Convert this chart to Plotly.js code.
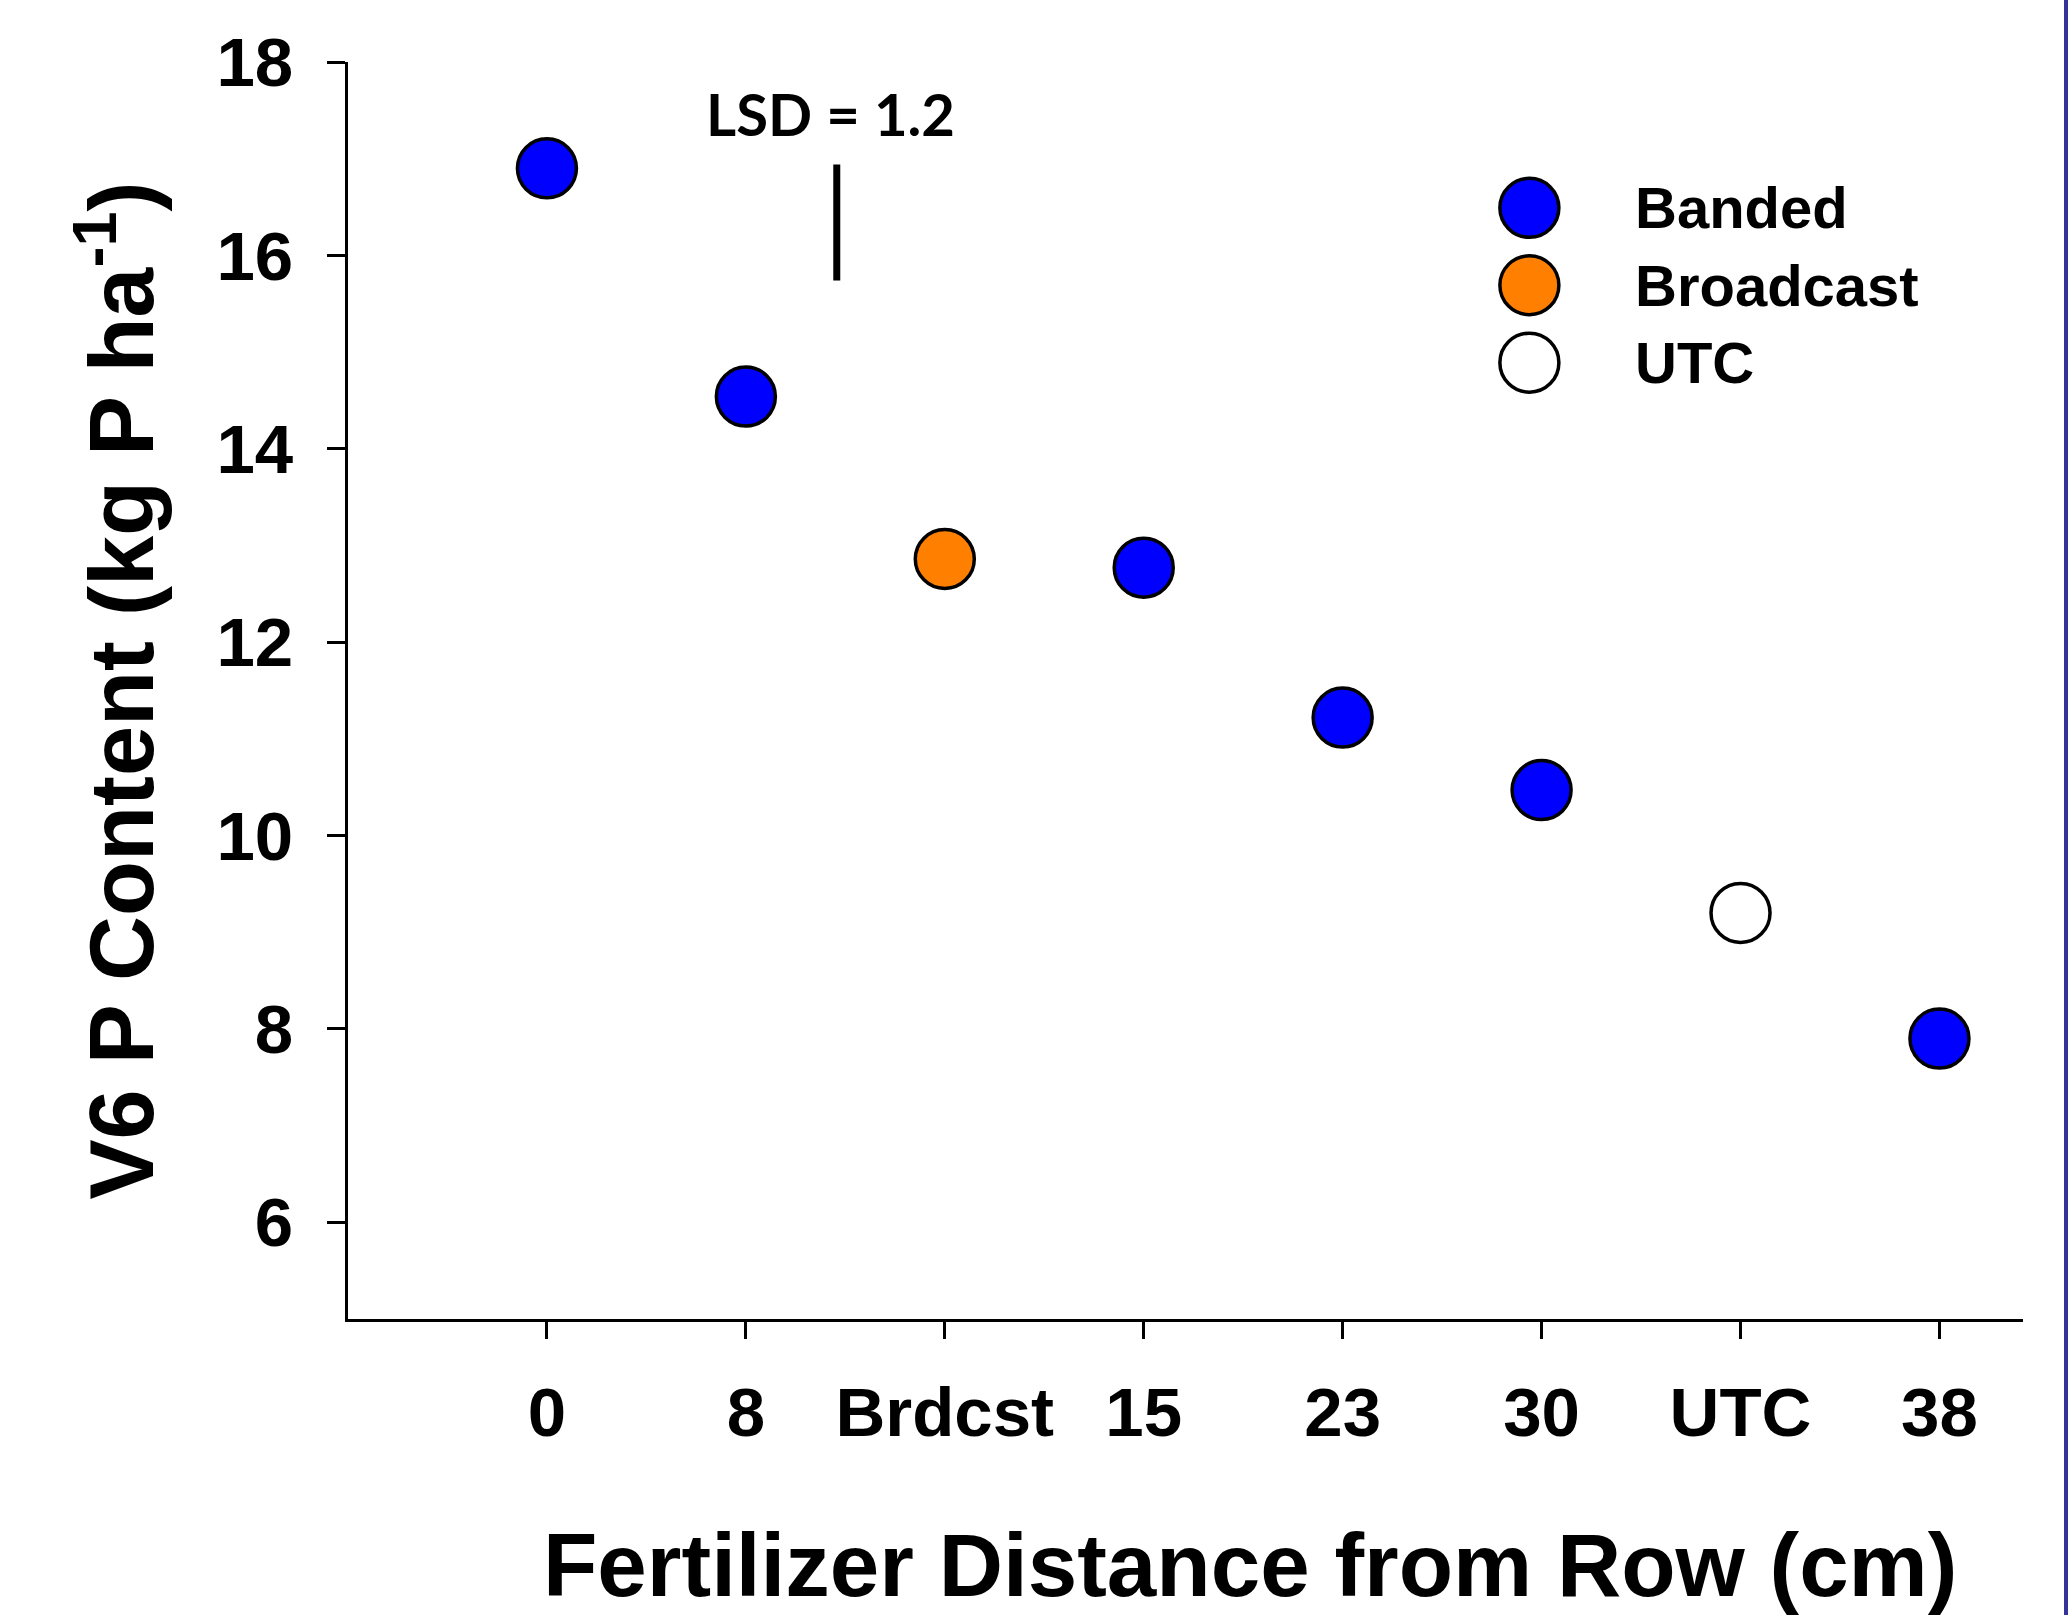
<!DOCTYPE html>
<html><head><meta charset="utf-8">
<script src="https://cdn.plot.ly/plotly-3.0.1.min.js"></script>
<style>
html,body{margin:0;padding:0;background:#fff;overflow:hidden;}
#wrap{width:2064px;height:1615px;border-right:4px solid #33339a;}
#chart{width:2064px;height:1615px;}
</style></head><body>
<div id="wrap"><div id="chart"></div></div>
<script>
// ---- data ----
const categories = ['0', '8', 'Brdcst', '15', '23', '30', 'UTC', '38'];
const pContent = [16.90, 14.54, 12.86, 12.77, 11.22, 10.47, 9.20, 7.90];
const treatment = ['Banded', 'Banded', 'Broadcast', 'Banded', 'Banded', 'Banded', 'UTC', 'Banded'];
const groups = ['Banded', 'Broadcast', 'UTC'];
const yTicks = [6, 8, 10, 12, 14, 16, 18];
const lsdValue = 1.2;
const lsdLabel = 'LSD = 1.2';

// ---- styling / placement ----
const groupColors = ['#0000ff', '#ff8000', '#ffffff'];
const FONT = 'Liberation Sans, Arial, Helvetica, sans-serif';
const lsdX = 1.457, lsdMid = 16.34, lsdTextY = 17.47, lsdTextX = 1.426;
const legMarkerX = 0.7053, legTextX = 0.7673, legTop = 0.884, legStep = 0.0616;
const markerSize = 59;

const xIdx = categories.map((_, i) => i);
const traces = groups.map((g, gi) => {
  const xs = [], ys = [];
  treatment.forEach((t, i) => { if (t === g) { xs.push(xIdx[i]); ys.push(pContent[i]); } });
  return {
    type: 'scatter', mode: 'markers', name: g, x: xs, y: ys, showlegend: false,
    cliponaxis: false,
    marker: {size: markerSize, color: groupColors[gi], line: {color: '#000', width: 3.5}}
  };
});

// LSD bar
traces.push({
  type: 'scatter', mode: 'lines', name: 'LSD', x: [lsdX, lsdX], y: [lsdMid - lsdValue / 2, lsdMid + lsdValue / 2],
  line: {color: '#000', width: 7}, showlegend: false, hoverinfo: 'skip', cliponaxis: false
});

// custom legend markers (overlay axes in 0..1 units)
traces.push({
  type: 'scatter', mode: 'markers', name: 'legend', xaxis: 'x2', yaxis: 'y2', showlegend: false,
  x: groups.map(() => legMarkerX), y: groups.map((_, i) => legTop - i * legStep),
  marker: {size: markerSize, color: groupColors, line: {color: '#000', width: 3.5}},
  cliponaxis: false, hoverinfo: 'skip'
});

const annotations = groups.map((g, i) => ({
  xref: 'paper', yref: 'paper', x: legTextX, y: legTop - i * legStep,
  xanchor: 'left', yanchor: 'middle', showarrow: false, text: g,
  font: {family: FONT, size: 58, color: '#000', weight: 700}
}));
annotations.push({
  xref: 'x', yref: 'y', x: lsdTextX, y: lsdTextY, xanchor: 'center', yanchor: 'middle',
  showarrow: false, text: lsdLabel, font: {family: 'Lato, Open Sans, sans-serif', size: 58, color: '#000', weight: 700}
});
annotations.push({
  xref: 'paper', yref: 'paper', x: 0.5388, y: -0.1955, xanchor: 'center', yanchor: 'middle',
  showarrow: false, text: 'Fertilizer Distance from Row (cm)',
  font: {family: FONT, size: 89, color: '#000', weight: 700}
});

const layout = {
  width: 2064, height: 1615,
  margin: {l: 348, r: 41, t: 62, b: 296, pad: 0},
  paper_bgcolor: '#fff', plot_bgcolor: '#fff',
  showlegend: false,
  font: {family: FONT, color: '#000'},
  xaxis: {
    range: [-1, 7.42], tickmode: 'array', tickvals: xIdx, ticktext: categories,
    showline: true, linecolor: '#000', linewidth: 3, mirror: false,
    ticks: 'outside', ticklen: 17, tickwidth: 3, tickcolor: '#000',
    showgrid: false, zeroline: false,
    tickfont: {family: FONT, size: 69, color: '#000', weight: 700},
    ticklabelstandoff: 14
  },
  yaxis: {
    range: [5, 18], tickmode: 'array', tickvals: yTicks, ticktext: yTicks.map(String),
    showline: true, linecolor: '#000', linewidth: 3,
    ticks: 'outside', ticklen: 18, tickwidth: 3, tickcolor: '#000',
    showgrid: false, zeroline: false,
    tickfont: {family: FONT, size: 69, color: '#000', weight: 700},
    ticklabelstandoff: 20,
    title: {text: 'V6 P Content (kg P ha<sup>-1</sup>)', font: {family: FONT, size: 90, color: '#000', weight: 700}, standoff: 33}
  },
  xaxis2: {overlaying: 'x', range: [0, 1], visible: false, fixedrange: true},
  yaxis2: {overlaying: 'y', anchor: 'x2', range: [0, 1], visible: false, fixedrange: true},
  annotations: annotations
};

Plotly.newPlot('chart', traces, layout, {staticPlot: true, displayModeBar: false});
</script>
</body></html>
